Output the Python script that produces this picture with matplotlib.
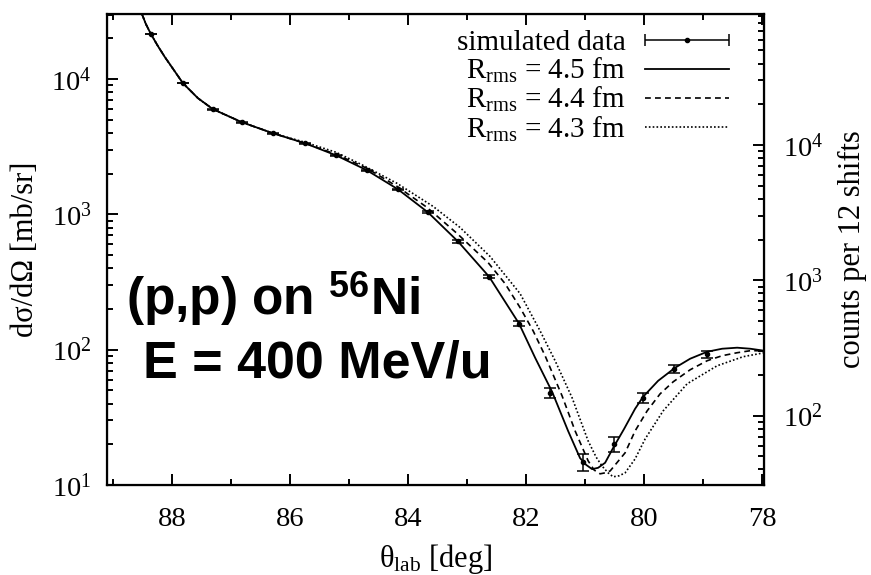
import matplotlib
matplotlib.use("Agg")
import matplotlib.pyplot as plt
from matplotlib.ticker import MultipleLocator, LogLocator, NullFormatter
from matplotlib.container import ErrorbarContainer
from matplotlib.legend_handler import HandlerErrorbar

plt.rcParams['font.family'] = ['Liberation Serif', 'DejaVu Serif']
plt.rcParams['mathtext.fontset'] = 'custom'
plt.rcParams['mathtext.rm'] = 'Liberation Serif'
plt.rcParams['mathtext.it'] = 'Liberation Serif:italic'
plt.rcParams['mathtext.bf'] = 'Liberation Serif:bold'

# simulated data points (theta_lab in deg, dsigma/dOmega in mb/sr)
theta_data = [88.36, 87.81, 87.31, 86.81, 86.29, 85.75, 85.22, 84.69, 84.17, 83.66,
              83.15, 82.63, 82.12, 81.59, 81.03, 80.51, 80.02, 79.49, 78.93]
xs_data = [21540, 9340, 5990, 4800, 3980, 3360, 2735, 2118, 1531, 1035,
           631, 347, 156, 48, 14.8, 20.1, 44, 72, 93]
xs_err = [85, 55, 45, 40, 36, 33, 30, 27, 23, 19, 14, 10, 7, 4, 2.2, 2.5, 3.7, 5, 5.5]

# R_rms = 4.5 fm
theta_45 = [88.508, 88.441, 88.356, 88.237, 88.119, 87.966, 87.814, 87.559, 87.305, 86.814,
            86.288, 85.746, 85.220, 84.695, 84.169, 83.661, 83.153, 82.627, 82.119, 81.847,
            81.559, 81.288, 81.085, 80.983, 80.881, 80.780, 80.661, 80.525, 80.339, 80.153,
            80.017, 79.763, 79.475, 79.220, 78.932, 78.678, 78.424, 78.203, 77.966]
xs_45 = [30300, 25550, 21540, 17550, 14550, 11660, 9340, 7230, 5995, 4800,
         3980, 3357, 2735, 2118, 1532, 1035, 631, 347, 156, 87.3,
         48.9, 25.1, 15.8, 14.1, 13.1, 13.4, 14.6, 18.8, 26.0, 36.6,
         44.9, 58.9, 73.6, 85.8, 96.6, 101.7, 103.5, 101.7, 98.3]

# R_rms = 4.4 fm
theta_44 = [88.508, 88.441, 88.356, 88.237, 88.119, 87.966, 87.814, 87.559, 87.305, 86.814,
            86.288, 85.746, 85.220, 84.695, 84.186, 83.678, 83.169, 82.644, 82.356, 82.102,
            81.881, 81.678, 81.390, 81.169, 80.949, 80.847, 80.746, 80.661, 80.576, 80.322,
            80.153, 79.949, 79.729, 79.508, 79.220, 78.932, 78.678, 78.424, 78.203, 77.966]
xs_44 = [30300, 25550, 21540, 17550, 14550, 11660, 9340, 7230, 5995, 4800,
         3980, 3357, 2783, 2191, 1612, 1127, 723, 441, 308, 205,
         138, 90.3, 45.6, 25.1, 15.1, 12.9, 12.1, 12.3, 12.7, 17.3,
         25.1, 35.3, 47.2, 57.9, 71.1, 82.9, 90.3, 95.0, 98.3, 98.3]

# R_rms = 4.3 fm
theta_43 = [88.508, 88.441, 88.356, 88.237, 88.119, 87.966, 87.814, 87.559, 87.305, 86.814,
            86.288, 85.746, 85.220, 84.763, 84.186, 83.576, 83.119, 82.610, 82.102, 81.763,
            81.508, 81.220, 80.949, 80.814, 80.712, 80.610, 80.525, 80.424, 80.322, 80.153,
            79.983, 79.678, 79.271, 78.763, 78.322, 77.966]
xs_43 = [30300, 25550, 21540, 17550, 14550, 11660, 9340, 7230, 5995, 4800,
         3980, 3415, 2880, 2307, 1697, 1147, 801, 489, 260, 138,
         82.9, 44.1, 21.2, 16.1, 13.8, 12.3, 11.5, 11.7, 12.3, 15.6,
         21.9, 35.3, 56.0, 76.1, 88.8, 95.0]

labels = ['simulated data', r'$\mathrm{R_{rms}}$ = 4.5 fm',
          r'$\mathrm{R_{rms}}$ = 4.4 fm', r'$\mathrm{R_{rms}}$ = 4.3 fm']

xlim = (89.1, 77.97)
ylim = (10, 30300)
counts_factor = 3.07   # counts per 12 shifts / (mb/sr)

fig = plt.figure(figsize=(8.71, 5.75), dpi=100)
ax = fig.add_axes([0.1228, 0.1565, 0.7543, 0.8192])

eb = ax.errorbar(theta_data, xs_data, yerr=xs_err, fmt='o', color='black', ms=3,
                 elinewidth=1.1, capsize=4, capthick=1.1, zorder=3)
l45, = ax.plot(theta_45, xs_45, color='black', lw=1.3)
l44, = ax.plot(theta_44, xs_44, color='black', lw=1.2, dashes=(3.5, 2.5))
l43, = ax.plot(theta_43, xs_43, color='black', lw=1.2, dashes=(1, 1.3))

ax.set_yscale('log')
ax.set_xlim(xlim)
ax.set_ylim(ylim)
ax.xaxis.set_major_locator(MultipleLocator(2))
ax.xaxis.set_minor_locator(MultipleLocator(1))
ax.yaxis.set_minor_locator(LogLocator(base=10, subs=range(2, 10)))
ax.yaxis.set_minor_formatter(NullFormatter())
ax.tick_params(which='both', direction='in', top=True, right=False, width=1.4)
ax.tick_params(which='major', length=8, labelsize=20.5)
ax.tick_params(which='minor', length=4.5)
ax.tick_params(axis='x', which='major', pad=16)
ax.tick_params(axis='y', which='major', pad=11)
for sp in ax.spines.values():
    sp.set_linewidth(1.6)

ax2 = ax.twinx()
ax2.set_yscale('log')
ax2.set_ylim(ylim[0] * counts_factor, ylim[1] * counts_factor)
ax2.yaxis.set_minor_locator(LogLocator(base=10, subs=range(2, 10)))
ax2.yaxis.set_minor_formatter(NullFormatter())
ax2.tick_params(which='both', direction='in', width=1.4)
ax2.tick_params(which='major', length=8, labelsize=20.5, pad=14)
ax2.tick_params(which='minor', length=4.5)
ax2.set_ylabel('counts per 12 shifts', fontsize=22, labelpad=10)

ax.set_xlabel(r'$\mathrm{\theta_{lab}}$ [deg]', fontsize=22, labelpad=7)
ax.set_ylabel('dσ/dΩ [mb/sr]', fontsize=22, labelpad=8)

leg_eb = ErrorbarContainer(eb.lines, has_xerr=True, has_yerr=False, label=labels[0])
ax.legend([leg_eb, l45, l44, l43], labels, loc='upper right',
          bbox_to_anchor=(0.947, 0.967), frameon=False, markerfirst=False,
          fontsize=21, handlelength=2.9, handletextpad=0.65, labelspacing=0.0,
          borderpad=0, borderaxespad=0, numpoints=1,
          handler_map={ErrorbarContainer: HandlerErrorbar(xerr_size=1.45)})

ax.text(0.029, 0.361, r'(p,p) on $^{\mathdefault{56}}$Ni', transform=ax.transAxes,
        family='Liberation Sans', weight='bold', fontsize=37, va='baseline')
ax.text(0.055, 0.229, 'E = 400 MeV/u', transform=ax.transAxes,
        family='Liberation Sans', weight='bold', fontsize=37.5, va='baseline')

fig.savefig('out.png', dpi=100)
